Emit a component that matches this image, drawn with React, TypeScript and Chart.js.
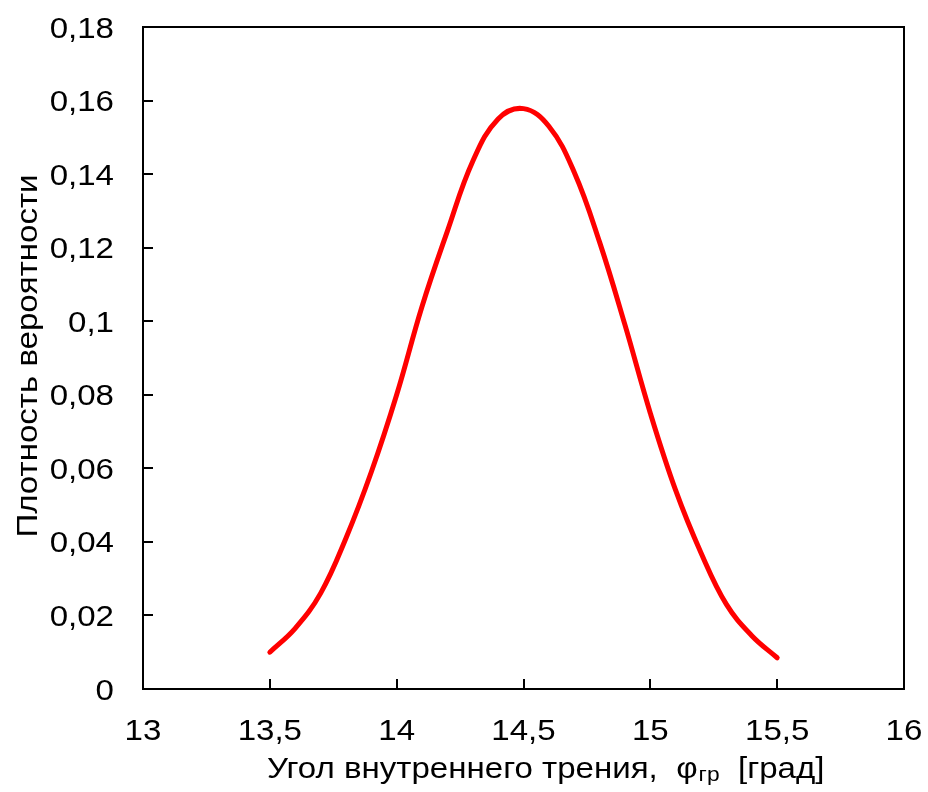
import React, { useEffect, useRef } from 'react';
import { Chart, registerables } from 'chart.js';

Chart.register(...registerables);

// Angle of internal friction, degrees
const angleValues = [13.5, 13.6, 13.7, 13.8, 13.9, 14.0, 14.1, 14.2, 14.3, 14.4, 14.5, 14.6, 14.7, 14.8, 14.9, 15.0, 15.1, 15.2, 15.3, 15.4, 15.5];
// Probability density
const densityValues = [0.010, 0.0165, 0.026, 0.041, 0.059, 0.080, 0.104, 0.1245, 0.1435, 0.155, 0.1578, 0.153, 0.1405, 0.1215, 0.099, 0.075, 0.054, 0.037, 0.023, 0.0145, 0.0085];

const xMin = 13;
const xMax = 16;
const xStep = 0.5;
const yMin = 0;
const yMax = 0.18;
const yStep = 0.02;

const yTitle = 'Плотность вероятности';
const xTitleMain = 'Угол внутреннего трения,  φ';
const xTitleSub = 'гр';
const xTitleUnit = '  [град]';

const FONT = '"Liberation Sans", Arial, sans-serif';
const STRETCH = 1.14;

const fmt = (v: number) => String(Number(v.toFixed(2))).replace('.', ',');

function stretchedText(ctx: CanvasRenderingContext2D, text: string, x: number, y: number, align: 'left' | 'center' | 'right') {
  const w = ctx.measureText(text).width * STRETCH;
  let left = x;
  if (align === 'center') left = x - w / 2;
  if (align === 'right') left = x - w;
  ctx.save();
  ctx.translate(left, y);
  ctx.scale(STRETCH, 1);
  ctx.textAlign = 'left';
  ctx.fillText(text, 0, 0);
  ctx.restore();
  return w;
}

const framePlugin = {
  id: 'framePlugin',
  afterDraw(chart: any) {
    const { ctx, chartArea: a, scales } = chart;
    ctx.save();
    ctx.strokeStyle = '#000';
    ctx.lineWidth = 2;
    ctx.strokeRect(a.left, a.top, a.right - a.left, a.bottom - a.top);
    ctx.beginPath();
    scales.x.ticks.forEach((t: any) => {
      const px = Math.round(scales.x.getPixelForValue(t.value));
      ctx.moveTo(px, a.bottom);
      ctx.lineTo(px, a.bottom - 10);
    });
    scales.y.ticks.forEach((t: any) => {
      const py = Math.round(scales.y.getPixelForValue(t.value));
      ctx.moveTo(a.left, py);
      ctx.lineTo(a.left + 10, py);
    });
    ctx.stroke();

    ctx.fillStyle = '#000';
    ctx.textBaseline = 'alphabetic';

    // tick labels
    ctx.font = `29px ${FONT}`;
    scales.x.ticks.forEach((t: any) => {
      const px = scales.x.getPixelForValue(t.value);
      stretchedText(ctx, fmt(t.value), px, a.bottom + 50.5, 'center');
    });
    scales.y.ticks.forEach((t: any) => {
      const py = scales.y.getPixelForValue(t.value);
      stretchedText(ctx, fmt(t.value), a.left - 29, py + 10.5, 'right');
    });

    // Y title
    ctx.font = `29px ${FONT}`;
    ctx.save();
    ctx.translate(37, (a.top + a.bottom) / 2 - 2);
    ctx.rotate(-Math.PI / 2);
    stretchedText(ctx, yTitle, 0, 0, 'center');
    ctx.restore();

    // X title with subscript
    const base = 778;
    let x = a.left + 124;
    ctx.font = `29px ${FONT}`;
    x += stretchedText(ctx, xTitleMain, x, base, 'left');
    x += 1;
    ctx.font = `20px ${FONT}`;
    x += stretchedText(ctx, xTitleSub, x, base + 3, 'left');
    ctx.font = `29px ${FONT}`;
    stretchedText(ctx, xTitleUnit, x, base, 'left');
    ctx.restore();
  },
};

export default function App() {
  const ref = useRef<HTMLCanvasElement | null>(null);

  useEffect(() => {
    document.body.style.margin = '0';
    const canvas = ref.current;
    if (!canvas) return;
    const chart = new Chart(canvas, {
      type: 'line',
      data: {
        datasets: [
          {
            data: angleValues.map((x, i) => ({ x, y: densityValues[i] })),
            borderColor: '#ff0000',
            borderWidth: 5,
            pointRadius: 0,
            tension: 0.4,
            borderCapStyle: 'round',
            borderJoinStyle: 'round',
            fill: false,
          },
        ],
      },
      options: {
        animation: false,
        responsive: true,
        maintainAspectRatio: false,
        devicePixelRatio: 1,
        layout: { padding: { top: 27, right: 24, left: 0, bottom: 0 } },
        plugins: {
          legend: { display: false },
          tooltip: { enabled: false },
          title: { display: false },
        },
        scales: {
          x: {
            type: 'linear',
            min: xMin,
            max: xMax,
            grid: { display: false, drawTicks: false },
            border: { display: false },
            ticks: { display: false, stepSize: xStep, autoSkip: false },
            afterFit: (s: any) => {
              s.height = 103;
            },
          },
          y: {
            type: 'linear',
            min: yMin,
            max: yMax,
            grid: { display: false, drawTicks: false },
            border: { display: false },
            ticks: { display: false, stepSize: yStep, autoSkip: false },
            afterFit: (s: any) => {
              s.width = 143;
            },
          },
        },
      },
      plugins: [framePlugin],
    } as any);
    return () => chart.destroy();
  }, []);

  return (
    <div style={{ position: 'absolute', left: 0, top: 0, width: 928, height: 792 }}>
      <canvas ref={ref} />
    </div>
  );
}
